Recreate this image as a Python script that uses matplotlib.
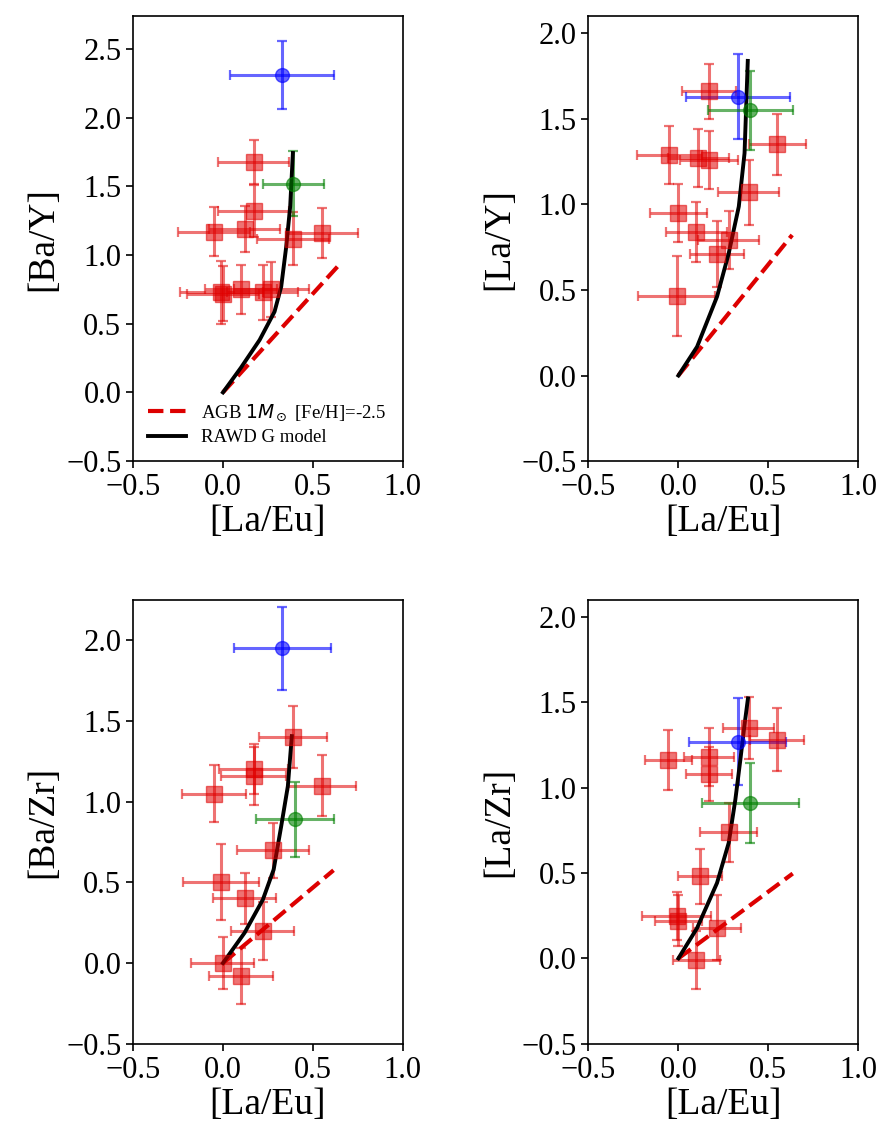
import numpy as np
import matplotlib
matplotlib.use("Agg")
import matplotlib.pyplot as plt

plt.rcParams['font.family'] = ['Liberation Serif', 'DejaVu Serif']
plt.rcParams['mathtext.fontset'] = 'dejavusans'

# ----------------------------------------------------------------------
# data: x=[La/Eu], y=ratio, symmetric errors
# ----------------------------------------------------------------------
ylabels = ["[Ba/Y]", "[La/Y]", "[Ba/Zr]", "[La/Zr]"]
ytops = [2.74, 2.10, 2.25, 2.10]

# red squares
red_x = [
    [0.17, 0.17, -0.05, 0.12, 0.39, 0.55, -0.01, 0.00, 0.10, 0.22, 0.27],
    [0.17, -0.05, 0.11, 0.17, 0.55, 0.39, 0.00, 0.10, 0.28, 0.215, -0.01],
    [0.39, 0.17, 0.17, -0.05, 0.55, 0.28, -0.01, 0.12, 0.22, 0.00, 0.10],
    [0.39, 0.55, -0.055, 0.17, 0.17, 0.28, 0.12, -0.01, 0.00, 0.215, 0.10],
]
red_y = [
    [1.68, 1.32, 1.17, 1.19, 1.12, 1.16, 0.73, 0.72, 0.75, 0.73, 0.75],
    [1.66, 1.29, 1.27, 1.26, 1.35, 1.07, 0.95, 0.84, 0.79, 0.71, 0.465],
    [1.40, 1.20, 1.16, 1.05, 1.10, 0.70, 0.50, 0.40, 0.20, 0.00, -0.08],
    [1.35, 1.28, 1.16, 1.18, 1.08, 0.74, 0.48, 0.25, 0.22, 0.18, -0.01],
]
red_xerr = [
    [0.20, 0.20, 0.20, 0.20, 0.20, 0.20, 0.23, 0.20, 0.20, 0.20, 0.21],
    [0.15, 0.18, 0.17, 0.16, 0.16, 0.17, 0.16, 0.17, 0.17, 0.15, 0.215],
    [0.19, 0.19, 0.18, 0.18, 0.19, 0.20, 0.21, 0.175, 0.175, 0.175, 0.176],
    [0.14, 0.15, 0.13, 0.14, 0.13, 0.16, 0.12, 0.19, 0.13, 0.135, 0.13],
]
red_yerr = [
    [0.16, 0.19, 0.18, 0.17, 0.19, 0.18, 0.23, 0.20, 0.18, 0.20, 0.20],
    [0.16, 0.17, 0.17, 0.17, 0.18, 0.19, 0.17, 0.175, 0.17, 0.19, 0.235],
    [0.19, 0.155, 0.18, 0.175, 0.19, 0.17, 0.235, 0.16, 0.18, 0.163, 0.176],
    [0.18, 0.185, 0.175, 0.17, 0.16, 0.173, 0.16, 0.14, 0.15, 0.19, 0.17],
]

# blue and green points (x, y, xerr, yerr) per panel
blue_pts = [(0.33, 2.31, 0.29, 0.25), (0.33, 1.63, 0.29, 0.25),
            (0.33, 1.95, 0.27, 0.257), (0.33, 1.27, 0.27, 0.253)]
green_pts = [(0.39, 1.52, 0.17, 0.235), (0.40, 1.55, 0.235, 0.23),
             (0.40, 0.89, 0.216, 0.23), (0.40, 0.91, 0.27, 0.233)]

# RAWD G model curves
rawd_x = [
    [0.0, 0.10, 0.204, 0.287, 0.324, 0.352, 0.374, 0.389],
    [0.0, 0.104, 0.215, 0.28, 0.336, 0.368, 0.386],
    [0.0, 0.12, 0.222, 0.282, 0.324, 0.361, 0.383],
    [0.0, 0.104, 0.215, 0.28, 0.317, 0.345, 0.367, 0.387],
]
rawd_y = [
    [0.0, 0.18, 0.382, 0.588, 0.77, 1.062, 1.354, 1.743],
    [0.0, 0.168, 0.461, 0.714, 0.987, 1.299, 1.838],
    [0.0, 0.187, 0.393, 0.579, 0.848, 1.096, 1.406],
    [0.0, 0.178, 0.442, 0.677, 0.931, 1.166, 1.361, 1.523],
]

# AGB model lines
agb_x = [[0.0, 0.64], [0.0, 0.633], [0.0, 0.615], [0.0, 0.636]]
agb_y = [[0.0, 0.92], [0.0, 0.821], [0.0, 0.575], [0.0, 0.497]]

# ----------------------------------------------------------------------
fig = plt.figure(figsize=(8.93, 11.47), dpi=100)
positions = [
    [0.149, 0.598, 0.302, 0.388],
    [0.659, 0.598, 0.302, 0.388],
    [0.149, 0.090, 0.302, 0.387],
    [0.659, 0.090, 0.302, 0.387],
]

eb_kw = dict(linestyle="none", elinewidth=2.2, capsize=3.5, capthick=1.6)

for i in range(4):
    ax = fig.add_axes(positions[i])

    ax.errorbar(red_x[i], red_y[i], xerr=red_xerr[i], yerr=red_yerr[i],
                marker="s", markersize=11, color="#e00000", alpha=0.55, **eb_kw)

    bx, by, bxe, bye = blue_pts[i]
    ax.errorbar([bx], [by], xerr=[bxe], yerr=[bye], marker="o",
                markersize=10, color="blue", alpha=0.6, **eb_kw)
    gx, gy, gxe, gye = green_pts[i]
    ax.errorbar([gx], [gy], xerr=[gxe], yerr=[gye], marker="o",
                markersize=10, color="green", alpha=0.6, **eb_kw)

    ax.plot(agb_x[i], agb_y[i], linestyle="--", color="#dd0000", lw=3,
            label=r"AGB $1M_\odot$ [Fe/H]=-2.5")
    ax.plot(rawd_x[i], rawd_y[i], color="black", lw=2.8,
            label="RAWD G model")

    ax.set_xlim(-0.5, 1.0)
    ax.set_ylim(-0.5, ytops[i])
    ax.set_xticks([-0.5, 0.0, 0.5, 1.0])
    ax.set_yticks(np.arange(-0.5, ytops[i] + 0.01, 0.5))
    ax.tick_params(labelsize=22, width=1.2, length=5)
    for s in ax.spines.values():
        s.set_linewidth(1.2)
    ax.set_xlabel("[La/Eu]", fontsize=27, labelpad=2)
    ax.set_ylabel(ylabels[i], fontsize=27)

    if i == 0:
        ax.legend(loc="lower left", frameon=False, fontsize=13.5,
                  handlelength=2.0, borderaxespad=0.4, labelspacing=0.3)

fig.savefig("out.png", dpi=100)
